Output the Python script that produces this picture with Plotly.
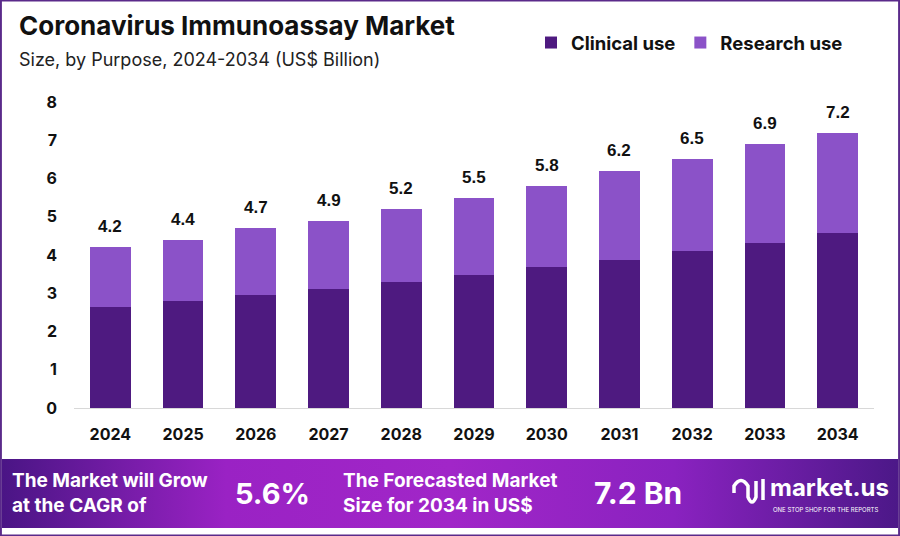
import base64
import plotly.graph_objects as go

years = ["2024", "2025", "2026", "2027", "2028", "2029", "2030", "2031", "2032", "2033", "2034"]
clinical_use = [2.64, 2.80, 2.95, 3.11, 3.29, 3.48, 3.69, 3.87, 4.10, 4.31, 4.58]
totals = [4.2, 4.4, 4.7, 4.9, 5.2, 5.5, 5.8, 6.2, 6.5, 6.9, 7.2]
research_use = [round(t - c, 2) for t, c in zip(totals, clinical_use)]
y_ticks = [0, 1, 2, 3, 4, 5, 6, 7, 8]

W, H = 900, 536
FONT = "Inter, Lato, sans-serif"
CLINICAL = "#4e1a80"
RESEARCH = "#8b52c8"


def px_x(px):
    return px / W


def px_y(py):
    return 1 - py / H


fig = go.Figure()
fig.add_trace(go.Bar(x=years, y=clinical_use, name="Clinical use",
                     marker=dict(color=CLINICAL, line=dict(width=0))))
fig.add_trace(go.Bar(x=years, y=research_use, name="Research use",
                     marker=dict(color=RESEARCH, line=dict(width=0))))

# total labels above each stack (category axis -> index positions)
for i, t in enumerate(totals):
    fig.add_annotation(x=i, y=t, text=f"{t}", showarrow=False, yanchor="bottom",
                       yshift=9, font=dict(family="Liberation Sans, Arial", size=17,
                                           color="#111", weight="bold"))

# banner background (gradient via svg)
svg = """<svg xmlns='http://www.w3.org/2000/svg' width='896' height='69'>
<defs><linearGradient id='g' x1='0' y1='0' x2='1' y2='0'>
<stop offset='0' stop-color='#4a1585'/>
<stop offset='0.25' stop-color='#9a22c4'/>
<stop offset='0.5' stop-color='#a126c8'/>
<stop offset='0.75' stop-color='#8a22c0'/>
<stop offset='1' stop-color='#4c1888'/>
</linearGradient></defs>
<rect width='896' height='69' fill='url(#g)'/></svg>"""
uri = "data:image/svg+xml;base64," + base64.b64encode(svg.encode()).decode()
fig.add_layout_image(source=uri, xref="paper", yref="paper", x=px_x(2), y=px_y(459),
                     sizex=896 / W, sizey=69 / H, sizing="stretch",
                     xanchor="left", yanchor="top", layer="below")

white = dict(family=FONT, color="white", weight="bold")
fig.add_annotation(xref="paper", yref="paper", x=px_x(10), y=px_y(493), xanchor="left",
                   yanchor="middle", align="left", showarrow=False,
                   text="The Market will Grow<br>at the CAGR of", font=dict(size=19, **white))
fig.add_annotation(xref="paper", yref="paper", x=px_x(272), y=px_y(493), xanchor="center",
                   yanchor="middle", showarrow=False, text="5.6%", font=dict(size=29, **white))
fig.add_annotation(xref="paper", yref="paper", x=px_x(341), y=px_y(493), xanchor="left",
                   yanchor="middle", align="left", showarrow=False,
                   text="The Forecasted Market<br>Size for 2034 in US$", font=dict(size=19, **white))
fig.add_annotation(xref="paper", yref="paper", x=px_x(638), y=px_y(493), xanchor="center",
                   yanchor="middle", showarrow=False, text="7.2 Bn", font=dict(size=30, **white))
fig.add_annotation(xref="paper", yref="paper", x=px_x(768), y=px_y(487), xanchor="left",
                   yanchor="middle", showarrow=False, text="market.us", font=dict(size=24, **white))
fig.add_annotation(xref="paper", yref="paper", x=px_x(771), y=px_y(509), xanchor="left",
                   yanchor="middle", showarrow=False, text="ONE STOP SHOP FOR THE REPORTS",
                   font=dict(family=FONT, size=6, color="white"))
# rough logo mark
fig.add_shape(type="path", xref="paper", yref="paper",
              path=f"M {px_x(734)},{px_y(493)} L {px_x(734)},{px_y(486)} "
                   f"Q {px_x(741)},{px_y(475)} {px_x(748)},{px_y(486)} L {px_x(748)},{px_y(497)} "
                   f"Q {px_x(752)},{px_y(507)} {px_x(756)},{px_y(497)} L {px_x(756)},{px_y(481)}",
              line=dict(color="white", width=3.5))
fig.add_shape(type="line", xref="paper", yref="paper", x0=px_x(763), x1=px_x(763),
              y0=px_y(479), y1=px_y(500), line=dict(color="white", width=3.5))

# title & subtitle
fig.add_annotation(xref="paper", yref="paper", x=px_x(17), y=px_y(26), xanchor="left",
                   yanchor="middle", showarrow=False, text="Coronavirus Immunoassay Market",
                   font=dict(family=FONT, size=26, color="#111", weight="bold"))
fig.add_annotation(xref="paper", yref="paper", x=px_x(17), y=px_y(60), xanchor="left",
                   yanchor="middle", showarrow=False, text="Size, by Purpose, 2024-2034 (US$ Billion)",
                   font=dict(family=FONT, size=18, color="#222"))

# frame
fig.add_shape(type="rect", xref="paper", yref="paper", x0=0.001, x1=0.999, y0=0.001, y1=0.999,
              line=dict(color="#5a2a8a", width=2), layer="above")

fig.update_layout(
    width=W, height=H,
    margin=dict(l=0, r=0, t=0, b=0),
    template="none",
    paper_bgcolor="white", plot_bgcolor="white",
    barmode="stack", bargap=0.44,
    showlegend=True,
    legend=dict(orientation="h", x=px_x(531), y=px_y(43), xanchor="left", yanchor="middle",
                font=dict(family=FONT, size=18.5, color="#111", weight="bold"),
                itemwidth=30, traceorder="normal", bgcolor="rgba(0,0,0,0)"),
    xaxis=dict(domain=[74 / W, 874 / W], type="category", showgrid=False,
               showline=True, linecolor="#d8d8d8", linewidth=1, ticks="", automargin=False,
               ticklabelstandoff=12,
               tickfont=dict(family=FONT, size=16, color="#111", weight="bold")),
    yaxis=dict(domain=[px_y(408), px_y(102)], range=[0, 8], tickvals=y_ticks, showgrid=False,
               zeroline=False, showline=False, ticks="", automargin=False,
               ticklabelstandoff=16,
               tickfont=dict(family=FONT, size=16, color="#111", weight="bold")),
)

fig.write_html("out.html", config={"displayModeBar": False},
               post_script="document.body.style.margin='0';document.body.style.overflow='hidden';")
